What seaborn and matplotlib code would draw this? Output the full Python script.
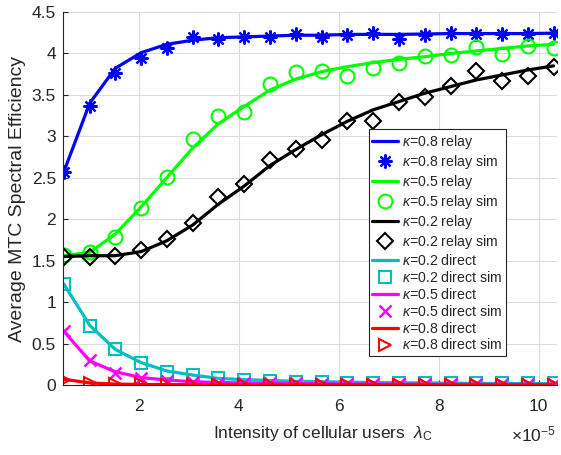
import numpy as np
import pandas as pd
import matplotlib
matplotlib.use("Agg")
import matplotlib.pyplot as plt
import matplotlib.ticker as mticker
import seaborn as sns

# x axis: intensity of cellular users (in units of 1e-5)
lam = [0.50, 1.02, 1.53, 2.05, 2.56, 3.08, 3.59, 4.11, 4.63, 5.14,
       5.66, 6.17, 6.69, 7.21, 7.72, 8.24, 8.75, 9.27, 9.78, 10.30]

relay08 = [2.57, 3.40, 3.82, 4.01, 4.11, 4.16, 4.19, 4.20, 4.21, 4.22,
           4.22, 4.23, 4.23, 4.23, 4.235, 4.24, 4.24, 4.24, 4.24, 4.245]
relay08_sim = [2.57, 3.37, 3.77, 3.94, 4.06, 4.20, 4.17, 4.20, 4.20, 4.23,
               4.20, 4.22, 4.25, 4.18, 4.22, 4.25, 4.24, 4.24, 4.24, 4.25]

relay05 = [1.56, 1.60, 1.82, 2.15, 2.50, 2.86, 3.15, 3.36, 3.56, 3.69,
           3.78, 3.84, 3.89, 3.93, 3.96, 4.00, 4.03, 4.06, 4.09, 4.11]
relay05_sim = [1.57, 1.61, 1.79, 2.14, 2.51, 2.97, 3.24, 3.29, 3.63, 3.78,
               3.79, 3.73, 3.83, 3.89, 3.97, 3.98, 4.08, 3.99, 4.09, 4.06]

relay02 = [1.55, 1.56, 1.56, 1.61, 1.74, 1.93, 2.18, 2.40, 2.65, 2.84,
           3.02, 3.18, 3.32, 3.42, 3.52, 3.60, 3.68, 3.74, 3.80, 3.85]
relay02_sim = [1.55, 1.54, 1.56, 1.63, 1.76, 1.96, 2.27, 2.42, 2.72, 2.85,
               2.95, 3.18, 3.19, 3.42, 3.47, 3.61, 3.79, 3.67, 3.73, 3.84]

direct02 = [1.22, 0.72, 0.43, 0.27, 0.17, 0.12, 0.08, 0.065, 0.055, 0.045,
            0.04, 0.035, 0.03, 0.027, 0.025, 0.022, 0.02, 0.018, 0.017, 0.015]
direct02_sim = [1.22, 0.71, 0.43, 0.26, 0.16, 0.12, 0.08, 0.06, 0.05, 0.04,
                0.04, 0.03, 0.03, 0.03, 0.02, 0.02, 0.02, 0.02, 0.02, 0.02]

direct05 = [0.65, 0.29, 0.16, 0.09, 0.06, 0.04, 0.03, 0.025, 0.02, 0.018,
            0.015, 0.013, 0.012, 0.011, 0.01, 0.009, 0.008, 0.008, 0.007, 0.007]
direct05_sim = [0.65, 0.30, 0.15, 0.09, 0.05, 0.04, 0.03, 0.02, 0.02, 0.02,
                0.01, 0.01, 0.01, 0.01, 0.01, 0.01, 0.01, 0.01, 0.01, 0.01]

direct08 = [0.07, 0.025, 0.012, 0.007, 0.005, 0.004, 0.003, 0.003, 0.002, 0.002,
            0.002, 0.002, 0.002, 0.002, 0.001, 0.001, 0.001, 0.001, 0.001, 0.001]
direct08_sim = [0.06, 0.02, 0.01, 0.007, 0.005, 0.004, 0.003, 0.003, 0.002, 0.002,
                0.002, 0.002, 0.002, 0.002, 0.001, 0.001, 0.001, 0.001, 0.001, 0.001]

labels = [r"$\kappa$=0.8 relay", r"$\kappa$=0.5 relay", r"$\kappa$=0.2 relay",
          r"$\kappa$=0.2 direct", r"$\kappa$=0.5 direct", r"$\kappa$=0.8 direct"]

sns.set_theme(style="ticks")
plt.rcParams["font.family"] = ["Liberation Sans", "DejaVu Sans"]
plt.rcParams["mathtext.fontset"] = "custom"
plt.rcParams["mathtext.it"] = "Liberation Sans:italic"
plt.rcParams["mathtext.rm"] = "Liberation Sans"

x = np.array(lam) * 1e-5

fig = plt.figure(figsize=(5.61, 4.55), dpi=100)
ax = fig.add_axes([0.1123, 0.1538, 0.8806, 0.8198])

asterisk = (8, 2, 0)
series = [
    (relay08, relay08_sim, "#0000ff", asterisk, labels[0], dict(ms=10, mew=1.6)),
    (relay05, relay05_sim, "#00ff00", "o", labels[1], dict(ms=10, mew=1.5, mfc="none")),
    (relay02, relay02_sim, "#000000", "D", labels[2], dict(ms=8, mew=1.5, mfc="none")),
    (direct02, direct02_sim, "#00bfbf", "s", labels[3], dict(ms=8.5, mew=1.5, mfc="none")),
    (direct05, direct05_sim, "#ff00ff", "x", labels[4], dict(ms=9, mew=1.8)),
    (direct08, direct08_sim, "#ff0000", ">", labels[5], dict(ms=9, mew=1.5, mfc="none")),
]

for theo, sim, col, mk, lab, mkw in series:
    sns.lineplot(x=x, y=theo, color=col, lw=2.3, label=lab, ax=ax, sort=False)
    sns.lineplot(x=x, y=sim, color=col, marker=mk, linestyle="none", mec=col,
                 label=lab + " sim", ax=ax, sort=False, **mkw)

ax.set_xlim(0.485e-5, 10.37e-5)
ax.set_ylim(0, 4.5)
ax.set_yticks(np.arange(0, 4.51, 0.5))
ax.yaxis.set_major_formatter(mticker.FuncFormatter(lambda v, p: "%g" % v))
ax.set_xticks(np.array([2, 4, 6, 8, 10]) * 1e-5)
ax.xaxis.set_major_formatter(mticker.FuncFormatter(lambda v, p: "%g" % round(v * 1e5, 6)))
ax.text(0.998, -0.15, r"$\times10^{-5}$", transform=ax.transAxes, ha="right",
        va="baseline", fontsize=12.5, color="#262626")

ax.grid(True, color="#dcdcdc", lw=0.8)
ax.set_axisbelow(True)
sns.despine(ax=ax, top=True, right=True)
for s in ["left", "bottom"]:
    ax.spines[s].set_color("#262626")
    ax.spines[s].set_linewidth(0.8)
ax.tick_params(direction="in", length=3.5, width=0.8, colors="#262626",
               labelsize=12.5)
ax.tick_params(axis="x", pad=10)
ax.tick_params(axis="y", pad=5)

ax.set_xlabel(r"Intensity of cellular users  $\lambda_\mathrm{C}$", fontsize=12.5,
              color="#262626")
ax.xaxis.set_label_coords(0.525, -0.105)
ax.set_ylabel("Average MTC Spectral Efficiency", fontsize=14, color="#262626",
              labelpad=4)

h, l = ax.get_legend_handles_labels()
leg = ax.legend(h, l, loc="upper left", bbox_to_anchor=(0.619, 0.686),
                borderaxespad=0, fontsize=10.2, frameon=True, fancybox=False,
                edgecolor="#262626", framealpha=1, handlelength=1.8,
                handletextpad=0.3, labelspacing=0.14, borderpad=0.25)
leg.get_frame().set_linewidth(0.8)

fig.savefig("out.png", dpi=100)
